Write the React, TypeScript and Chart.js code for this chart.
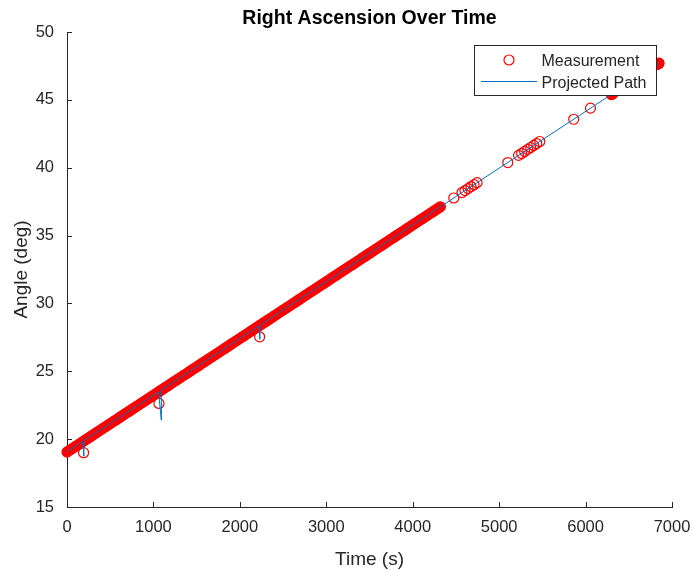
import { useEffect, useRef } from "react";
import { Chart, registerables } from "chart.js";

Chart.register(...registerables);

// Labels
const TITLE = "Right Ascension Over Time";
const X_LABEL = "Time (s)";
const Y_LABEL = "Angle (deg)";
const LEGEND_LABELS = ["Measurement", "Projected Path"];

// Axis ranges
const X_RANGE = [0, 7000];
const X_STEP = 1000;
const Y_RANGE = [15, 50];
const Y_STEP = 5;

// Measured right ascension (s, deg)
const measTime = [
  0, 30, 60, 90, 120, 150, 180, 192, 210, 240, 270,
  300, 330, 360, 390, 420, 450, 480, 510, 540, 570,
  600, 630, 660, 690, 720, 750, 780, 810, 840, 870,
  900, 930, 960, 990, 1020, 1050, 1064, 1080, 1110, 1140, 1170,
  1200, 1230, 1260, 1290, 1320, 1350, 1380, 1410, 1440, 1470,
  1500, 1530, 1560, 1590, 1620, 1650, 1680, 1710, 1740, 1770,
  1800, 1830, 1860, 1890, 1920, 1950, 1980, 2010, 2040, 2070,
  2100, 2130, 2160, 2190, 2220, 2229, 2250, 2280, 2310, 2340, 2370,
  2400, 2430, 2460, 2490, 2520, 2550, 2580, 2610, 2640, 2670,
  2700, 2730, 2760, 2790, 2820, 2850, 2880, 2910, 2940, 2970,
  3000, 3030, 3060, 3090, 3120, 3150, 3180, 3210, 3240, 3270,
  3300, 3330, 3360, 3390, 3420, 3450, 3480, 3510, 3540, 3570,
  3600, 3630, 3660, 3690, 3720, 3750, 3780, 3810, 3840, 3870,
  3900, 3930, 3960, 3990, 4020, 4050, 4080, 4110, 4140, 4170,
  4200, 4230, 4260, 4290, 4320,
  4475,
  4570, 4605, 4640, 4675, 4710, 4745,
  5100,
  5225, 5260, 5295, 5330, 5365, 5400, 5435, 5470,
  5863, 6057,
  6298, 6302, 6306, 6310, 6314, 6318,
  6830, 6834, 6838, 6842, 6846, 6850,
];
const measAngle = [
  19.05, 19.18, 19.30, 19.43, 19.55, 19.68, 19.80, 19.00, 19.93, 20.05, 20.18,
  20.30, 20.43, 20.56, 20.68, 20.81, 20.93, 21.06, 21.18, 21.31, 21.43,
  21.56, 21.69, 21.81, 21.94, 22.06, 22.19, 22.31, 22.44, 22.56, 22.69,
  22.81, 22.94, 23.07, 23.19, 23.32, 23.44, 22.63, 23.57, 23.69, 23.82, 23.94,
  24.07, 24.20, 24.32, 24.45, 24.57, 24.70, 24.82, 24.95, 25.07, 25.20,
  25.32, 25.45, 25.58, 25.70, 25.83, 25.95, 26.08, 26.20, 26.33, 26.45,
  26.58, 26.70, 26.83, 26.96, 27.08, 27.21, 27.33, 27.46, 27.58, 27.71,
  27.83, 27.96, 28.09, 28.21, 28.34, 27.54, 28.46, 28.59, 28.71, 28.84, 28.96,
  29.09, 29.21, 29.34, 29.47, 29.59, 29.72, 29.84, 29.97, 30.09, 30.22,
  30.34, 30.47, 30.60, 30.72, 30.85, 30.97, 31.10, 31.22, 31.35, 31.47,
  31.60, 31.72, 31.85, 31.98, 32.10, 32.23, 32.35, 32.48, 32.60, 32.73,
  32.85, 32.98, 33.10, 33.23, 33.36, 33.48, 33.61, 33.73, 33.86, 33.98,
  34.11, 34.23, 34.36, 34.49, 34.61, 34.74, 34.86, 34.99, 35.11, 35.24,
  35.36, 35.49, 35.61, 35.74, 35.87, 35.99, 36.12, 36.24, 36.37, 36.49,
  36.62, 36.74, 36.87, 36.99, 37.12,
  37.77,
  38.17, 38.31, 38.46, 38.61, 38.75, 38.90,
  40.38,
  40.91, 41.05, 41.20, 41.35, 41.49, 41.64, 41.78, 41.93,
  43.57, 44.39,
  45.39, 45.41, 45.43, 45.44, 45.46, 45.48,
  47.62, 47.64, 47.65, 47.67, 47.69, 47.70,
];

// Projected path vertices (s, deg)
const pathTime = [0, 180, 195, 196, 1060, 1091, 1092, 2220, 2232, 2234, 6840];
const pathAngle = [19.08, 19.83, 18.75, 19.9, 23.48, 21.4, 23.62, 28.34, 27.35, 28.4, 47.66];

const FONT = "'Liberation Sans', Arial, Helvetica, sans-serif";
const AXIS_COLOR = "#262626";
const MEAS_COLOR = "#ff0000";
const PATH_COLOR = "#0072BD";

// Markers that sit on top of another sample look solid; isolated ones stay hollow.
function isCrowded(i: number): boolean {
  const t = measTime[i];
  const a = measAngle[i];
  for (let j = 0; j < measTime.length; j++) {
    if (j === i) continue;
    if (Math.abs(measTime[j] - t) <= 30 && Math.abs(measAngle[j] - a) < 0.2) return true;
  }
  return false;
}

const inwardTicks = {
  id: "inwardTicks",
  beforeDatasetsDraw(chart: any) {
    const { ctx, chartArea } = chart;
    const xs = chart.scales.x;
    const ys = chart.scales.y;
    ctx.save();
    ctx.strokeStyle = AXIS_COLOR;
    ctx.lineWidth = 1;
    ctx.beginPath();
    xs.ticks.forEach((t: any) => {
      const px = Math.round(xs.getPixelForValue(t.value)) + 0.5;
      ctx.moveTo(px, chartArea.bottom);
      ctx.lineTo(px, chartArea.bottom - 5);
    });
    ys.ticks.forEach((t: any) => {
      const py = Math.round(ys.getPixelForValue(t.value)) + 0.5;
      ctx.moveTo(chartArea.left, py);
      ctx.lineTo(chartArea.left + 5, py);
    });
    ctx.stroke();
    ctx.restore();
  },
};

const annotations = {
  id: "annotations",
  afterDraw(chart: any) {
    const { ctx, chartArea } = chart;
    const cx = (chartArea.left + chartArea.right) / 2;
    const cy = (chartArea.top + chartArea.bottom) / 2;
    ctx.save();

    // title
    ctx.fillStyle = "#000";
    ctx.font = `bold 19.5px ${FONT}`;
    ctx.textAlign = "center";
    ctx.textBaseline = "alphabetic";
    ctx.fillText(TITLE, cx, 23.5);

    // axis titles
    ctx.fillStyle = AXIS_COLOR;
    ctx.font = `19px ${FONT}`;
    ctx.fillText(X_LABEL, cx, 565);
    ctx.save();
    ctx.translate(26.5, cy);
    ctx.rotate(-Math.PI / 2);
    ctx.fillText(Y_LABEL, 0, 0);
    ctx.restore();

    // legend
    const bx = 474.5, by = 45.5, bw = 182, bh = 50;
    ctx.fillStyle = "#fff";
    ctx.fillRect(bx, by, bw, bh);
    ctx.strokeStyle = AXIS_COLOR;
    ctx.lineWidth = 1;
    ctx.strokeRect(bx, by, bw, bh);

    ctx.strokeStyle = MEAS_COLOR;
    ctx.lineWidth = 1.2;
    ctx.beginPath();
    ctx.arc(509, 60, 5, 0, Math.PI * 2);
    ctx.stroke();

    ctx.strokeStyle = PATH_COLOR;
    ctx.lineWidth = 1;
    ctx.beginPath();
    ctx.moveTo(481, 81.5);
    ctx.lineTo(537, 81.5);
    ctx.stroke();

    ctx.fillStyle = AXIS_COLOR;
    ctx.font = `16px ${FONT}`;
    ctx.textAlign = "left";
    ctx.fillText(LEGEND_LABELS[0], 541.5, 66);
    ctx.fillText(LEGEND_LABELS[1], 541.5, 87.5);

    ctx.restore();
  },
};

export default function App() {
  const canvasRef = useRef<HTMLCanvasElement | null>(null);

  useEffect(() => {
    const canvas = canvasRef.current;
    if (!canvas) return;

    const tickFont = { family: FONT, size: 16.5 };
    const plain = (v: any) => String(v);

    const chart = new Chart(canvas, {
      type: "scatter",
      data: {
        datasets: [
          {
            type: "line",
            label: LEGEND_LABELS[1],
            data: pathTime.map((t, i) => ({ x: t, y: pathAngle[i] })),
            borderColor: PATH_COLOR,
            borderWidth: 1,
            pointRadius: 0,
            fill: false,
            tension: 0,
            order: 0,
            clip: false,
          } as any,
          {
            label: LEGEND_LABELS[0],
            data: measTime.map((t, i) => ({ x: t, y: measAngle[i] })),
            pointStyle: "circle",
            pointRadius: 5,
            pointBorderWidth: 1.2,
            pointBorderColor: MEAS_COLOR,
            pointBackgroundColor: (c: any) =>
              isCrowded(c.dataIndex) ? MEAS_COLOR : "rgba(255,255,255,0)",
            order: 1,
            clip: false,
          } as any,
        ],
      },
      options: {
        animation: false,
        responsive: false,
        maintainAspectRatio: false,
        devicePixelRatio: 1,
        layout: { padding: { left: 0, right: 20, top: 32, bottom: 0 } },
        plugins: {
          legend: { display: false },
          title: { display: false },
          tooltip: { enabled: false },
        },
        scales: {
          x: {
            type: "linear",
            min: X_RANGE[0],
            max: X_RANGE[1],
            ticks: {
              stepSize: X_STEP,
              color: AXIS_COLOR,
              font: tickFont,
              padding: 11,
              maxRotation: 0,
              autoSkip: false,
              callback: plain,
            },
            grid: { display: false, drawTicks: false },
            border: { display: true, color: AXIS_COLOR, width: 1 },
            afterFit: (s: any) => {
              s.height = 64;
              s.paddingLeft = 0;
              s.paddingRight = 0;
            },
          },
          y: {
            type: "linear",
            min: Y_RANGE[0],
            max: Y_RANGE[1],
            ticks: {
              stepSize: Y_STEP,
              color: AXIS_COLOR,
              font: tickFont,
              padding: 13,
              autoSkip: false,
              callback: plain,
            },
            grid: { display: false, drawTicks: false },
            border: { display: true, color: AXIS_COLOR, width: 1 },
            afterFit: (s: any) => {
              s.width = 67;
              s.paddingTop = 0;
              s.paddingBottom = 0;
            },
          },
        },
      },
      plugins: [inwardTicks, annotations],
    });

    return () => chart.destroy();
  }, []);

  return (
    <div style={{ position: "fixed", left: 0, top: 0, width: 692, height: 571, background: "#fff" }}>
      <canvas ref={canvasRef} width={692} height={571} style={{ display: "block" }} />
    </div>
  );
}
